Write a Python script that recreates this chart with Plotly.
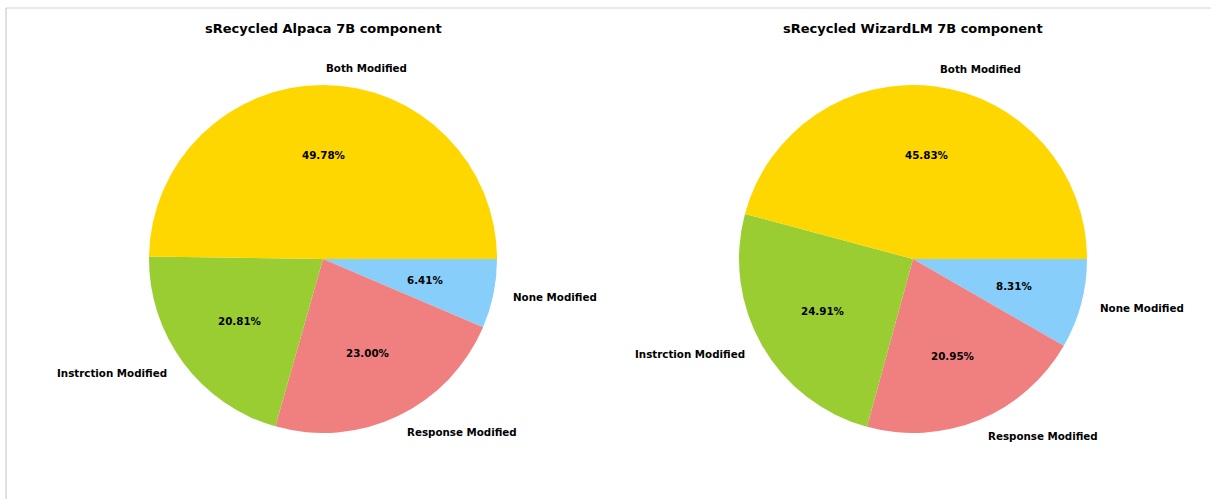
import math
import plotly.graph_objects as go

categories = ["Both Modified", "Instrction Modified", "Response Modified", "None Modified"]
alpaca_values = [49.78, 20.81, 23.00, 6.41]
wizard_values = [45.83, 24.91, 20.95, 8.31]
titles = ["sRecycled Alpaca 7B component", "sRecycled WizardLM 7B component"]
colors = ["#FFD700", "#9ACD32", "#F08080", "#87CEFA"]

W, H = 1211, 499
FONT = "DejaVu Sans"
R = 174
centers = [(323, 259), (913, 259)]

fig = go.Figure()
annotations = []
txtfont = dict(family=FONT, size=10.3, color="black", weight="bold")

for vals, (cx, cy), title in zip([alpaca_values, wizard_values], centers, titles):
    dom = dict(x=[(cx - R) / W, (cx + R) / W], y=[(H - cy - R) / H, (H - cy + R) / H])
    # counterclockwise from 3 o'clock == clockwise from 3 o'clock with reversed order
    fig.add_trace(go.Pie(
        labels=categories[::-1], values=vals[::-1], sort=False, direction="clockwise",
        rotation=90, domain=dom, marker=dict(colors=colors[::-1], line=dict(width=0)),
        textinfo="none", showlegend=False, hoverinfo="label+percent",
    ))
    total = sum(vals)
    cum = 0.0
    for lab, v in zip(categories, vals):
        theta = math.radians(360.0 * (cum + v / 2) / total)
        cum += v
        c, s = math.cos(theta), math.sin(theta)
        # percentage inside at 0.6 r
        annotations.append(dict(
            text=f"{100 * v / total:.2f}%", x=(cx + 0.6 * R * c) / W, y=(H - cy + 0.6 * R * s) / H,
            xref="paper", yref="paper", xanchor="center", yanchor="middle",
            showarrow=False, font=txtfont,
        ))
        # category label outside at 1.1 r
        annotations.append(dict(
            text=lab, x=(cx + 1.1 * R * c) / W, y=(H - cy + 1.1 * R * s) / H,
            xref="paper", yref="paper", xanchor="left" if c > 0 else "right", yanchor="middle",
            showarrow=False, font=txtfont,
        ))
    annotations.append(dict(
        text=title, x=cx / W, y=1 - 28 / H,
        xref="paper", yref="paper", xanchor="center", yanchor="middle",
        showarrow=False, font=dict(family=FONT, size=13, color="black", weight="bold"),
    ))

fig.update_layout(
    width=W, height=H,
    margin=dict(l=0, r=0, t=0, b=0),
    paper_bgcolor="white", plot_bgcolor="white",
    annotations=annotations,
    shapes=[
        dict(type="line", xref="paper", yref="paper", x0=6 / W, x1=1, y0=1 - 8 / H, y1=1 - 8 / H,
             line=dict(color="#d4d4d4", width=1)),
        dict(type="line", xref="paper", yref="paper", x0=6 / W, x1=6 / W, y0=0, y1=1 - 8 / H,
             line=dict(color="#c0c0c0", width=1)),
    ],
)

fig.write_html("out.html", config={"displayModeBar": False},
               post_script="document.body.style.margin='0px';")
